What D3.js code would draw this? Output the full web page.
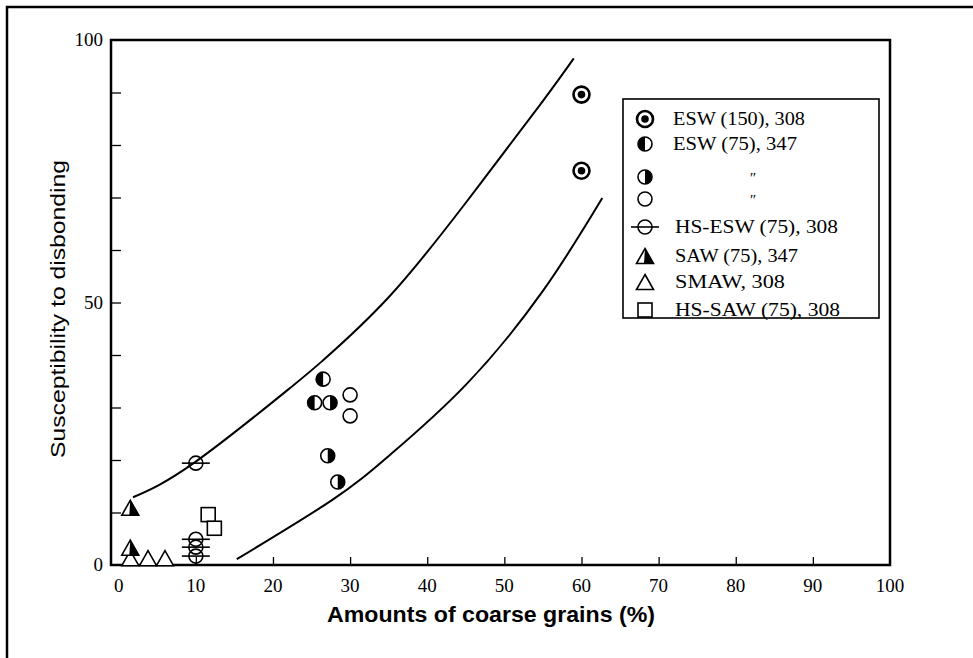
<!DOCTYPE html>
<html><head><meta charset="utf-8">
<script src="https://cdn.jsdelivr.net/npm/d3@7/dist/d3.min.js"></script>
<style>body{margin:0;background:#fff}svg{display:block}</style>
</head><body>
<svg id="c" width="973" height="658"></svg>
<script>
// ---- data ----
const xTickValues = [0,10,20,30,40,50,60,70,80,90,100];
const yTickLabels = [0,50,100];
const yMinorTicks = [10,20,30,40,50,60,70,80,90];
const xMinorTicks = [10,20,30,40,50,60,70,80,90];
const legendLabels = ["ESW (150), 308","ESW (75), 347","\u3003","\u3003","HS-ESW (75), 308","SAW (75), 347","SMAW, 308","HS-SAW (75), 308"];
const esw150 = [[60,89.6],[60,75.1]];
const esw75a = [[26.5,35.4],[25.4,30.9]];
const esw75b = [[27.4,30.9],[27.1,20.8],[28.4,15.8]];
const esw75open = [[30,32.4],[30,28.4]];
const hsEsw = [[10,19.4],[10,4.9],[10,3.4],[10,1.7]];
const saw = [[1.5,10.9],[1.5,3.3]];
const smaw = [[1.5,1.3],[3.8,1.3],[6.0,1.3]];
const hsSaw = [[11.6,9.6],[12.4,7.0]];
const upperCurve = [[1.85,12.9],[9.9,19.6],[22.2,33.7],[26.5,39],[35,51],[45,69],[54.6,87.6],[59,96.5]];
const lowerCurve = [[15.3,1.1],[27.7,12.4],[35.2,21],[45,34.3],[55,52.2],[62.7,69.9]];

// ---- layout ----
const svg = d3.select("#c");
const x = d3.scaleLinear().domain([-1,100]).range([111,890]);
const y = d3.scaleLinear().domain([0,100]).range([565,40]);
const serif = "'Liberation Serif','Times New Roman',serif";
const sans = "'Liberation Sans',Arial,sans-serif";

// outer border (top + left)
svg.append("path").attr("d","M7,658 L7,7 L973,7").attr("fill","none").attr("stroke","#000").attr("stroke-width",2.5);

// plot frame
svg.append("rect").attr("x",x(-1)).attr("y",y(100)).attr("width",x(100)-x(-1)).attr("height",y(0)-y(100))
  .attr("fill","none").attr("stroke","#000").attr("stroke-width",2.5);

// y axis ticks (inward)
svg.append("g").attr("transform",`translate(${x(-1)},0)`)
  .call(d3.axisRight(y).tickValues(yMinorTicks).tickSize(10).tickFormat(""))
  .call(g=>{g.select(".domain").remove();g.selectAll("line").attr("stroke-width",1.3);});
// x axis ticks (inward)
svg.append("g").attr("transform",`translate(0,${y(0)})`)
  .call(d3.axisTop(x).tickValues(xMinorTicks).tickSize(8).tickFormat(""))
  .call(g=>{g.select(".domain").remove();g.selectAll("line").attr("stroke-width",1.3);});

// tick labels
svg.append("g").selectAll("text").data(xTickValues).join("text")
  .attr("x",d=>x(d)).attr("y",592).attr("text-anchor","middle")
  .attr("font-family",serif).attr("font-size",19).text(d=>d);
svg.append("g").selectAll("text").data(yTickLabels).join("text")
  .attr("x",103).attr("y",d=>y(d)+6).attr("text-anchor","end")
  .attr("font-family",serif).attr("font-size",19).text(d=>d);

// axis titles
svg.append("text").attr("x",491).attr("y",622).attr("text-anchor","middle")
  .attr("font-family",sans).attr("font-weight","bold").attr("font-size",22)
  .attr("textLength",328).attr("lengthAdjust","spacingAndGlyphs")
  .text("Amounts of coarse grains (%)");
svg.append("text").attr("transform","translate(65,309) rotate(-90)").attr("text-anchor","middle")
  .attr("font-family",sans).attr("font-size",20)
  .attr("textLength",298).attr("lengthAdjust","spacingAndGlyphs")
  .text("Susceptibility to disbonding");

// curves
const line = d3.line().x(d=>x(d[0])).y(d=>y(d[1])).curve(d3.curveNatural);
svg.append("path").attr("d",line(upperCurve)).attr("fill","none").attr("stroke","#000").attr("stroke-width",2);
svg.append("path").attr("d",line(lowerCurve)).attr("fill","none").attr("stroke","#000").attr("stroke-width",2);

// ---- symbol drawers ----
function bullseye(g,cx,cy){
  g.append("circle").attr("cx",cx).attr("cy",cy).attr("r",8).attr("fill","#fff").attr("stroke","#000").attr("stroke-width",2.6);
  g.append("circle").attr("cx",cx).attr("cy",cy).attr("r",3.8).attr("fill","#000");
}
function halfCircle(g,cx,cy,side){
  const r=7;
  g.append("circle").attr("cx",cx).attr("cy",cy).attr("r",r).attr("fill","#fff").attr("stroke","#000").attr("stroke-width",1.6);
  const sweep = side==="left"?0:1;
  g.append("path").attr("d",`M${cx},${cy-r} A${r},${r} 0 0 ${sweep} ${cx},${cy+r} Z`).attr("fill","#000");
}
function openCircle(g,cx,cy){
  g.append("circle").attr("cx",cx).attr("cy",cy).attr("r",7).attr("fill","#fff").attr("stroke","#000").attr("stroke-width",1.6);
}
function barCircle(g,cx,cy){
  g.append("circle").attr("cx",cx).attr("cy",cy).attr("r",7).attr("fill","none").attr("stroke","#000").attr("stroke-width",1.6);
  g.append("line").attr("x1",cx-14).attr("x2",cx+14).attr("y1",cy).attr("y2",cy).attr("stroke","#000").attr("stroke-width",1.6);
}
function triangle(g,cx,cy,half){
  const w=17,h=15;
  g.append("path").attr("d",`M${cx},${cy-h/2} L${cx+w/2},${cy+h/2} L${cx-w/2},${cy+h/2} Z`)
    .attr("fill","#fff").attr("stroke","#000").attr("stroke-width",1.6).attr("stroke-linejoin","miter");
  if(half) g.append("path").attr("d",`M${cx},${cy-h/2} L${cx+w/2},${cy+h/2} L${cx-1},${cy+h/2} Z`).attr("fill","#000");
}
function square(g,cx,cy){
  const s=14;
  g.append("rect").attr("x",cx-s/2).attr("y",cy-s/2).attr("width",s).attr("height",s)
    .attr("fill","#fff").attr("stroke","#000").attr("stroke-width",1.6);
}

// ---- data points ----
const pts = svg.append("g");
smaw.forEach(d=>triangle(pts,x(d[0]),y(d[1]),false));
saw.forEach(d=>triangle(pts,x(d[0]),y(d[1]),true));
hsSaw.forEach(d=>square(pts,x(d[0]),y(d[1])));
hsEsw.forEach(d=>barCircle(pts,x(d[0]),y(d[1])));
esw75open.forEach(d=>openCircle(pts,x(d[0]),y(d[1])));
esw75a.forEach(d=>halfCircle(pts,x(d[0]),y(d[1]),"left"));
esw75b.forEach(d=>halfCircle(pts,x(d[0]),y(d[1]),"right"));
esw150.forEach(d=>bullseye(pts,x(d[0]),y(d[1])));

// ---- legend ----
const lg = svg.append("g");
lg.append("rect").attr("x",623).attr("y",99).attr("width",256).attr("height",219)
  .attr("fill","#fff").attr("stroke","#000").attr("stroke-width",1.6);
const rowY = [119,144,177,199,227,256,282,310];
const drawers = [
  (g,cx,cy)=>bullseye(g,cx,cy),
  (g,cx,cy)=>halfCircle(g,cx,cy,"left"),
  (g,cx,cy)=>halfCircle(g,cx,cy,"right"),
  (g,cx,cy)=>openCircle(g,cx,cy),
  (g,cx,cy)=>barCircle(g,cx,cy),
  (g,cx,cy)=>triangle(g,cx,cy,true),
  (g,cx,cy)=>triangle(g,cx,cy,false),
  (g,cx,cy)=>square(g,cx,cy)
];
const textW = [132,124,0,0,163,123,110,165];
legendLabels.forEach((lab,i)=>{
  drawers[i](lg,645,rowY[i]);
  const t = lg.append("text").attr("y",rowY[i]+6).attr("font-family",serif).attr("font-size",18);
  if(lab==="\u3003"){
    t.attr("x",752).attr("text-anchor","middle").attr("font-size",15).attr("font-style","italic").text("\u2033");
  } else {
    t.attr("x",i<4?673:675).attr("textLength",textW[i]).attr("lengthAdjust","spacingAndGlyphs").text(lab);
  }
});
</script>
</body></html>
